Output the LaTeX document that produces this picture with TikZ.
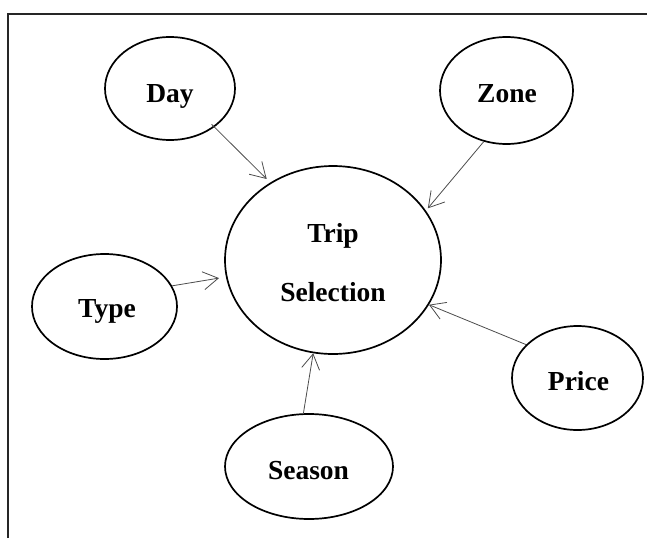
\documentclass[tikz,border=0pt]{standalone}
\usepackage{fontspec}
\setmainfont{Liberation Serif}
\usetikzlibrary{shapes.geometric,arrows.meta}
\begin{document}
\begin{tikzpicture}[x=1pt,y=-1pt,
  bubble/.style={draw=black,line width=1.7pt,ellipse,inner sep=0pt},
  lbl/.style={anchor=base,inner sep=0pt,font=\fontsize{27.5}{33}\selectfont\bfseries},
  link/.style={draw=black!70,line width=0.8pt,-{Straight Barb[length=15pt,width=18pt,line width=0.8pt]}},
  frame/.style={draw=black!85,line width=2pt}]
\useasboundingbox (0,0) rectangle (647,538);

% open frame: top and left edges only
\draw[frame] (7.5,538) -- (7.5,13.5) -- (647,13.5);

% ellipses
\node[bubble,minimum width=216pt,minimum height=188pt] (trip) at (333,260) {};
\node[bubble,minimum width=130pt,minimum height=103pt] (day) at (170,88.5) {};
\node[bubble,minimum width=133pt,minimum height=107pt] (zone) at (506.5,90.5) {};
\node[bubble,minimum width=145pt,minimum height=105pt] (type) at (104.5,306.5) {};
\node[bubble,minimum width=131pt,minimum height=104pt] (price) at (577.5,378) {};
\node[bubble,minimum width=168pt,minimum height=105pt] (season) at (309,466.5) {};

% labels
\node[lbl] (tTrip) at (333,242) {Trip};
\node[lbl] (tSel) at (333,301) {Selection};
\node[lbl] (tDay) at (170,102) {Day};
\node[lbl] (tZone) at (507,102) {Zone};
\node[lbl] (tType) at (107,317) {Type};
\node[lbl] (tPrice) at (578.5,390) {Price};
\node[lbl] (tSeason) at (308.5,479) {Season};

% connectors
\draw[link,shorten <=-4pt,shorten >=5pt] (day.-41) -- (trip.129);
\draw[link,shorten >=3pt] (zone.-114) -- (trip.28);
\draw[link,shorten >=7pt] (type.17) -- (trip.189.5);
\draw[link] (price.147.6) -- (trip.-25.1);
\draw[link] (season.96.5) -- (trip.-102);
\end{tikzpicture}
\end{document}
